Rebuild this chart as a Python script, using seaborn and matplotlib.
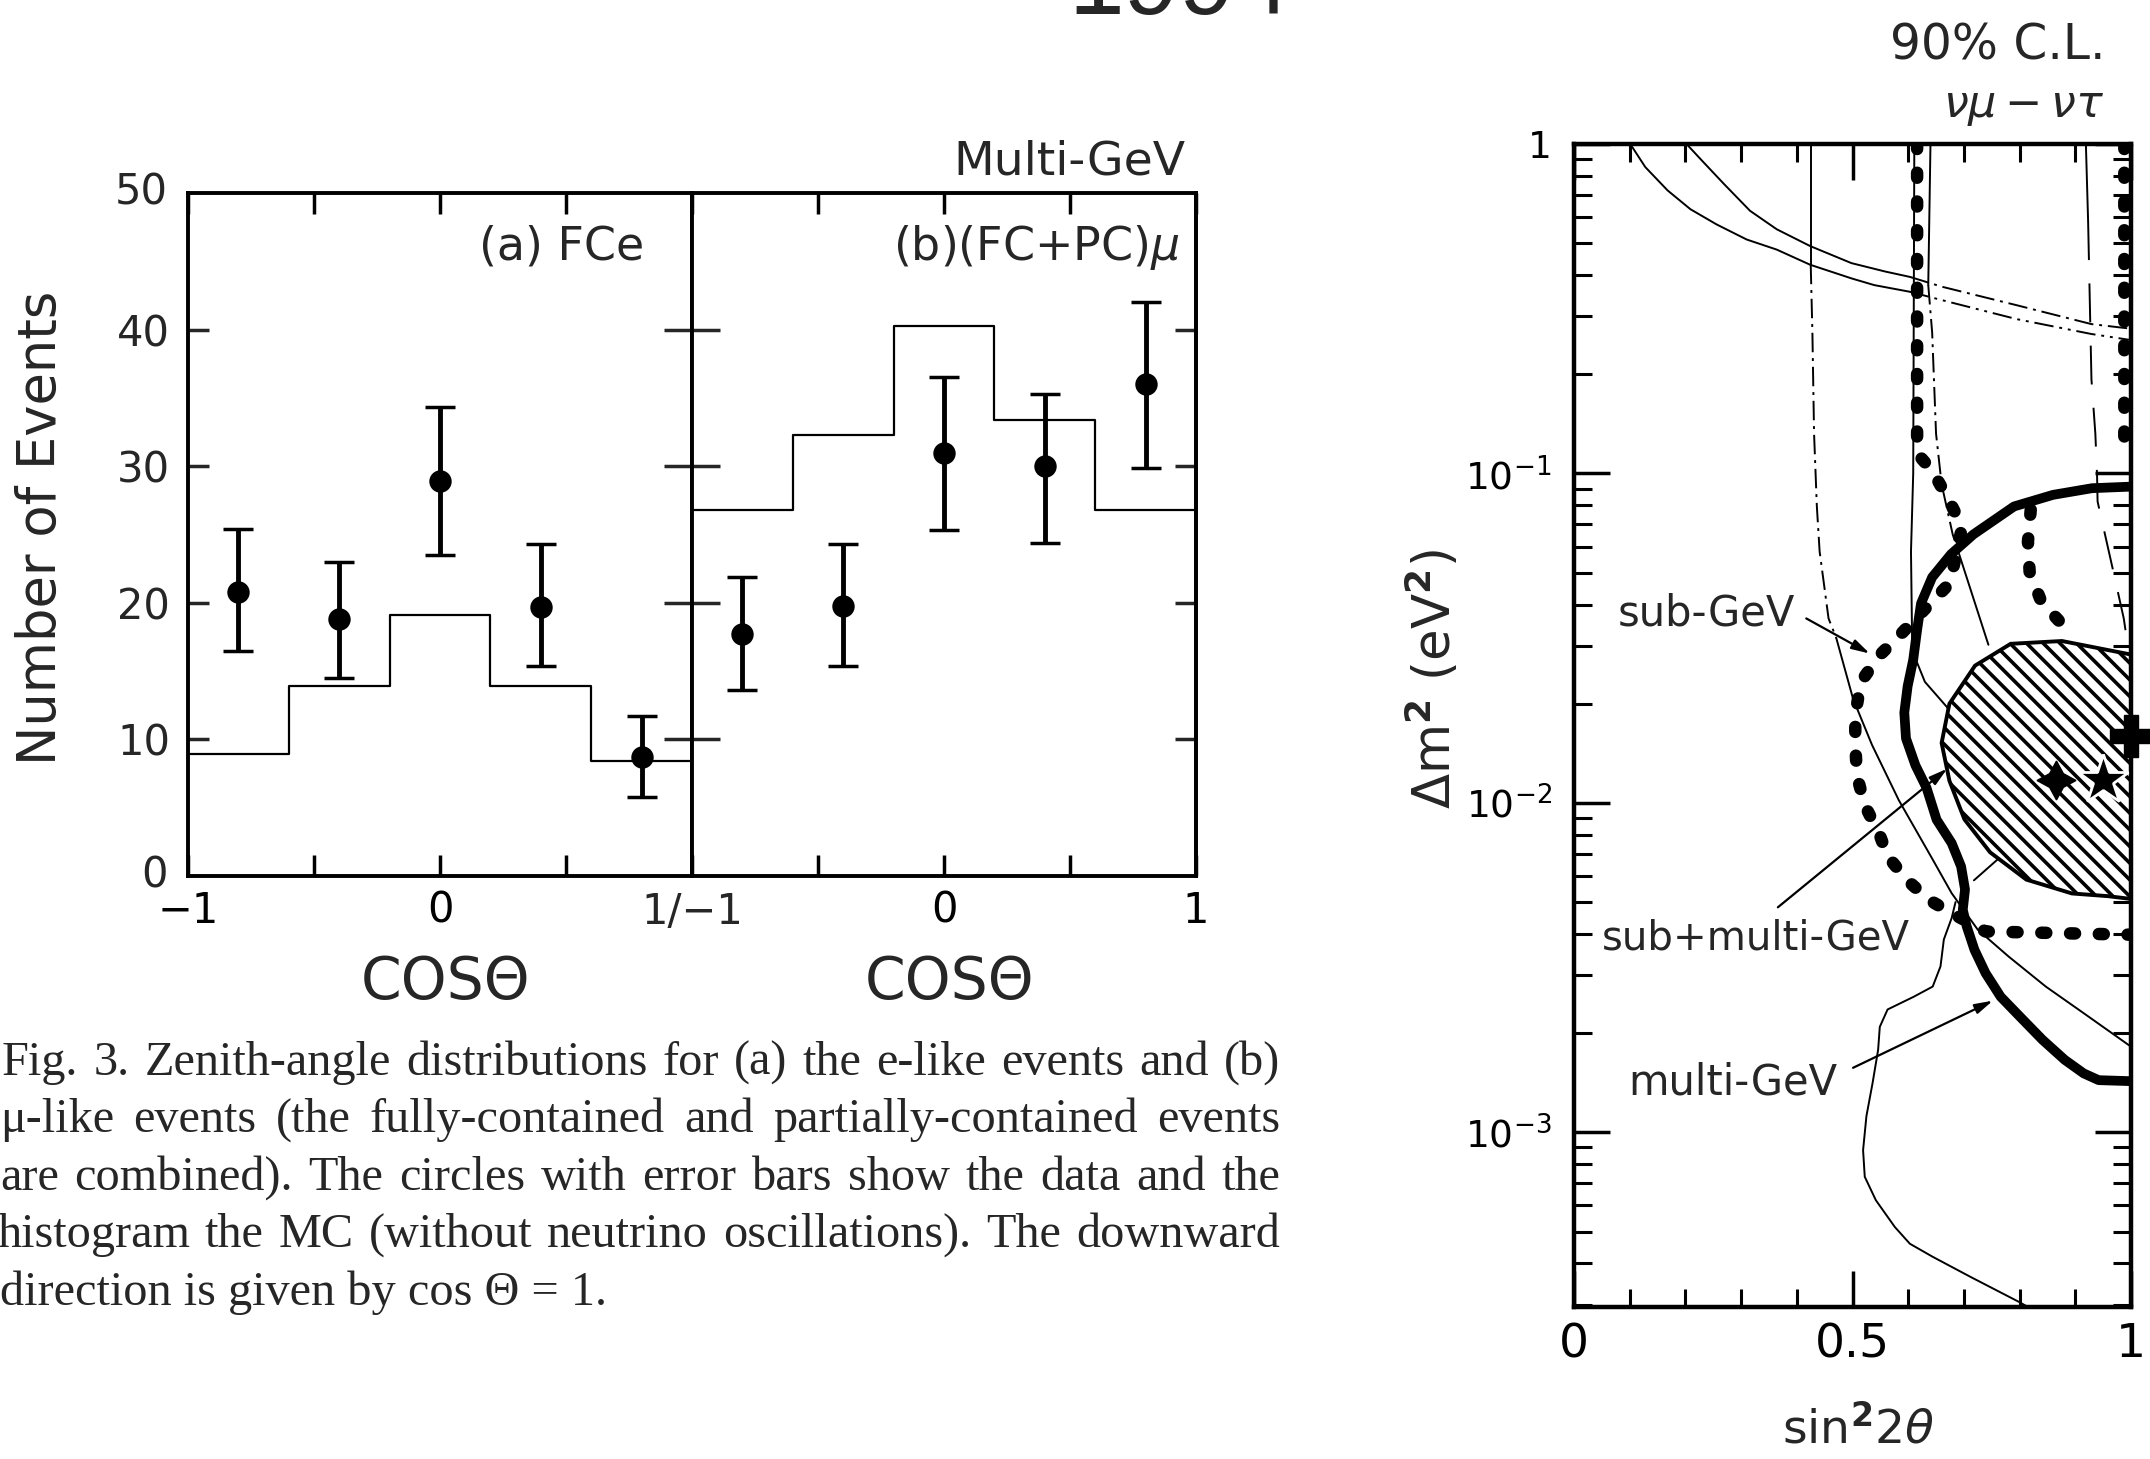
import matplotlib
matplotlib.use("Agg")
import matplotlib.pyplot as plt
import seaborn as sns
import numpy as np
import pandas as pd
from matplotlib.ticker import FixedLocator, FixedFormatter, NullFormatter

# ---------------- data: zenith-angle panels ----------------
cos_edges = [-1.0, -0.6, -0.2, 0.2, 0.6, 1.0]
cos_centers = [-0.8, -0.4, 0.0, 0.4, 0.8]
fce_mc = [8.9, 13.9, 19.1, 13.9, 8.4]
fce_data = [20.8, 18.8, 28.9, 19.7, 8.7]
fce_hi = [25.4, 23.0, 34.3, 24.3, 11.7]
fce_lo = [16.5, 14.5, 23.5, 15.4, 5.8]
mu_mc = [26.8, 32.3, 40.3, 33.4, 26.8]
mu_data = [17.7, 19.8, 31.0, 30.0, 36.0]
mu_hi = [21.9, 24.3, 36.5, 35.3, 42.0]
mu_lo = [13.6, 15.4, 25.3, 24.4, 29.9]
count_ticks = [0, 10, 20, 30, 40, 50]
count_labels = ["0", "10", "20", "30", "40", "50"]
cos_ticks = [-1, -0.5, 0, 0.5, 1]
cos_labels_a = ["\u22121", "", "0", "", ""]
cos_labels_b = ["", "", "0", "", "1"]

# ---------------- data: oscillation plane (sin^2 2theta, dm^2) ----------------
t1_x = [0.101, 0.128, 0.168, 0.209, 0.256, 0.310, 0.364, 0.424, 0.498, 0.539, 0.603]
t1_y = [1.0, 0.851, 0.723, 0.634, 0.570, 0.513, 0.478, 0.430, 0.391, 0.373, 0.356]
t1d_x = [0.603, 0.660, 0.795, 0.929, 1.0]
t1d_y = [0.356, 0.336, 0.294, 0.265, 0.254]
t2_x = [0.202, 0.229, 0.269, 0.316, 0.364, 0.424, 0.498, 0.559, 0.603]
t2_y = [1.0, 0.893, 0.757, 0.627, 0.551, 0.490, 0.435, 0.410, 0.395]
t2d_x = [0.603, 0.660, 0.795, 0.929, 1.0]
t2d_y = [0.395, 0.369, 0.324, 0.284, 0.275]

v1s_x = [0.425, 0.425]
v1s_y = [1.0, 0.430]
v1d_x = [0.425, 0.428, 0.431, 0.436, 0.441, 0.457, 0.471]
v1d_y = [0.430, 0.268, 0.132, 0.0794, 0.0579, 0.0363, 0.0316]
v1l_x = [0.471, 0.501, 0.535, 0.583, 0.644, 0.678, 0.725, 0.780, 0.847, 0.915, 1.0]
v1l_y = [0.0316, 0.0207, 0.0150, 0.0102, 0.00673, 0.00532, 0.00412, 0.00342, 0.00277, 0.00230, 0.00182]

v2_x = [0.611, 0.609, 0.605, 0.607, 0.615, 0.630, 0.670, 0.676]
v2_y = [1.0, 0.100, 0.0579, 0.0316, 0.0269, 0.0233, 0.0195, 0.0186]

v3s_x = [0.640, 0.636]
v3s_y = [1.0, 0.373]
v3d_x = [0.636, 0.643, 0.650, 0.660, 0.680, 0.690]
v3d_y = [0.373, 0.268, 0.132, 0.0927, 0.0652, 0.0579]
v3l_x = [0.690, 0.744]
v3l_y = [0.0579, 0.0302]

v4s_x = [0.919, 0.923]
v4s_y = [1.0, 0.583]
v4d_x = [0.923, 0.929, 0.936, 0.939, 0.940, 0.967, 0.987, 0.994]
v4d_y = [0.583, 0.193, 0.132, 0.0995, 0.0822, 0.0515, 0.0363, 0.0302]

multi_x = [1.0, 0.93, 0.86, 0.79, 0.717, 0.677, 0.643, 0.623, 0.616, 0.609, 0.599, 0.593,
           0.596, 0.613, 0.633, 0.651, 0.678, 0.695, 0.702, 0.698, 0.705, 0.719, 0.739,
           0.766, 0.80, 0.841, 0.881, 0.915, 0.942, 1.0]
multi_y = [0.0912, 0.0902, 0.0861, 0.0794, 0.0653, 0.0569, 0.0484, 0.0403, 0.0335, 0.0272,
           0.0226, 0.0188, 0.0157, 0.0130, 0.0111, 0.00889, 0.00755, 0.00641, 0.00546,
           0.00474, 0.00422, 0.00358, 0.00304, 0.00258, 0.00225, 0.00191, 0.00166,
           0.00151, 0.00144, 0.00143]

sub_x = [0.616, 0.616, 0.643, 0.672, 0.697, 0.675, 0.588, 0.549, 0.515, 0.505, 0.505, 0.508,
         0.522, 0.549, 0.563, 0.597, 0.637, 0.678, 0.739, 1.0]
sub_y = [1.0, 0.115, 0.102, 0.0836, 0.0690, 0.0465, 0.0327, 0.0281, 0.0233, 0.0185, 0.0150,
         0.0121, 0.00984, 0.00798, 0.00689, 0.00585, 0.00508, 0.00463, 0.00407, 0.00398]
sub_in_x = [0.820, 0.815, 0.818, 0.839, 0.872, 0.896]
sub_in_y = [0.0776, 0.0621, 0.0503, 0.0408, 0.0355, 0.0327]
sub_edge_x = [0.988, 0.988, 0.976]
sub_edge_y = [1.0, 0.117, 0.112]

comb_x = [1.0, 0.876, 0.784, 0.720, 0.674, 0.660, 0.674, 0.701, 0.747, 0.812, 0.894, 0.959, 1.0]
comb_y = [0.0282, 0.0310, 0.0304, 0.0261, 0.0200, 0.0152, 0.01167, 0.00891, 0.00708,
          0.00585, 0.00531, 0.00521, 0.00511]

low_x = [0.685, 0.678, 0.664, 0.658, 0.644, 0.610, 0.563, 0.549, 0.546, 0.536, 0.525, 0.519,
         0.522, 0.542, 0.576, 0.603, 0.644, 0.712, 0.80, 0.815]
low_y = [0.00500, 0.00447, 0.00385, 0.00319, 0.00277, 0.00258, 0.00236, 0.00209, 0.00178,
         0.00141, 0.00112, 0.000883, 0.000733, 0.000622, 0.000516, 0.000459, 0.000419,
         0.000364, 0.000305, 0.000295]
seg_x = [0.718, 0.765]
seg_y = [0.00582, 0.00684]

best_sub_x, best_sub_y = [0.866], [0.0117]
best_comb_x, best_comb_y = [0.950], [0.0117]
best_multi_x, best_multi_y = [1.0], [0.016]

dm_ticks = [1e-3, 1e-2, 1e-1, 1.0]
dm_labels = [r"$10^{-3}$", r"$10^{-2}$", r"$10^{-1}$", "1"]
dm_minor = [k * 10.0 ** e for e in (-4, -3, -2, -1) for k in range(2, 10)]
s2_major = [0, 0.5, 1.0]
s2_labels = ["0", "0.5", "1"]
s2_minor = [0.1, 0.2, 0.3, 0.4, 0.6, 0.7, 0.8, 0.9]

caption_lines = [
    "Fig. 3. Zenith-angle distributions for (a) the e-like events and (b)",
    "\u03bc-like events (the fully-contained and partially-contained events",
    "are combined). The circles with error bars show the data and the",
    "histogram the MC (without neutrino oscillations). The downward",
    "direction is given by cos \u0398 = 1.",
]

# ---------------- style ----------------
sns.set_theme(style="ticks")
plt.rcParams["font.family"] = ["DejaVu Sans"]
plt.rcParams["mathtext.fontset"] = "dejavusans"
plt.rcParams["hatch.linewidth"] = 2.6
plt.rcParams["axes.facecolor"] = "white"

W, H = 2150, 1459
fig = plt.figure(figsize=(W / 100, H / 100), dpi=100)
fig.patch.set_facecolor("white")


def fx(px):
    return px / W


def fy(py):
    return 1 - py / H


K = "black"
SPW = 2.8

axA = fig.add_axes([fx(188), fy(876), fx(504), (876 - 193) / H])
axB = fig.add_axes([fx(692), fy(876), fx(504), (876 - 193) / H])


def zen_panel(ax, mc, data, lo, hi, labels):
    sns.histplot(x=cos_centers, weights=mc, bins=cos_edges, element="step", fill=False,
                 color=K, linewidth=1.6, ax=ax)
    yerr = [np.array(data) - np.array(lo), np.array(hi) - np.array(data)]
    ax.errorbar(cos_centers, data, yerr=yerr, fmt="none", ecolor=K, elinewidth=3.5,
                capsize=11, capthick=2.5, zorder=3)
    sns.scatterplot(x=cos_centers, y=data, ax=ax, color=K, s=260, edgecolor=K,
                    linewidth=0, zorder=4)
    ax.set_xlim(-1, 1)
    ax.set_ylim(0, 50)
    ax.set_xlabel("")
    ax.set_ylabel("")
    ax.set_xticks(cos_ticks)
    ax.set_xticklabels(labels)
    ax.tick_params(axis="x", direction="in", top=True, bottom=True, length=15, width=2.5,
                   labelsize=30, pad=10, colors=K)
    for s in ax.spines.values():
        s.set_visible(True)
        s.set_linewidth(SPW)
        s.set_color(K)


zen_panel(axA, fce_mc, fce_data, fce_lo, fce_hi, cos_labels_a)
zen_panel(axB, mu_mc, mu_data, mu_lo, mu_hi, cos_labels_b)

axA.set_yticks(count_ticks[1:-1])
axA.set_yticklabels(count_labels[1:-1])
axA.tick_params(axis="y", direction="in", left=True, right=False, length=15, width=2.5,
                labelsize=30, pad=13)
for v, lab in zip([0, 50], ["0", "50"]):
    axA.text(-0.04, v, lab, transform=axA.get_yaxis_transform(), ha="right", va="center",
             fontsize=30)

axB.set_yticks(count_ticks[1:-1])
axB.set_yticklabels([])
axB.tick_params(axis="y", direction="inout", left=True, right=False, length=40, width=2.5,
                labelleft=False)
secB = axB.secondary_yaxis("right")
secB.set_yticks(count_ticks[1:-1])
secB.set_yticklabels([])
secB.tick_params(axis="y", direction="in", length=15, width=2.5)
secB.spines["right"].set_linewidth(SPW)

fig.text(fx(692), fy(912), "1/\u22121", ha="center", va="center", fontsize=30)
fig.text(fx(644), fy(247), "(a) FCe", ha="right", va="center", fontsize=33)
fig.text(fx(1179), fy(247), r"(b)(FC+PC)$\mu$", ha="right", va="center", fontsize=33)
fig.text(fx(1186), fy(162), "Multi-GeV", ha="right", va="center", fontsize=34)
fig.text(fx(41), fy(528), "Number of Events", rotation=90, ha="center", va="center",
         fontsize=38)
fig.text(fx(446), fy(983), "COS\u0398", ha="center", va="center", fontsize=42)
fig.text(fx(950), fy(983), "COS\u0398", ha="center", va="center", fontsize=42)

# ---------------- oscillation panel ----------------
axR = fig.add_axes([fx(1574), fy(1307), fx(557), (1307 - 144) / H])
axR.set_yscale("log")
axR.set_xlim(0, 1)
axR.set_ylim(2.95e-4, 1.0)

THIN = 1.4
DASHDOT = (0, (10, 3, 1.5, 3))
LONGDASH = (0, (20, 12))
DOTS = (0, (0.4, 1.9))

axR.plot(t1_x, t1_y, color=K, lw=THIN)
axR.plot(t1d_x, t1d_y, color=K, lw=THIN, ls=(0, (10, 3, 1.5, 3, 1.5, 3)))
axR.plot(t2_x, t2_y, color=K, lw=THIN)
axR.plot(t2d_x, t2d_y, color=K, lw=THIN, ls=DASHDOT)
axR.plot(v1s_x, v1s_y, color=K, lw=THIN)
axR.plot(v1d_x, v1d_y, color=K, lw=THIN, ls=DASHDOT)
axR.plot(v1l_x, v1l_y, color=K, lw=THIN)
axR.plot(v2_x, v2_y, color=K, lw=THIN)
axR.plot(v3s_x, v3s_y, color=K, lw=THIN)
axR.plot(v3d_x, v3d_y, color=K, lw=THIN, ls=DASHDOT)
axR.plot(v3l_x, v3l_y, color=K, lw=THIN)
axR.plot(v4s_x, v4s_y, color=K, lw=THIN)
axR.plot(v4d_x, v4d_y, color=K, lw=THIN, ls=LONGDASH)
axR.plot(low_x, low_y, color=K, lw=THIN)
axR.plot(seg_x, seg_y, color=K, lw=THIN)

axR.fill(comb_x, comb_y, facecolor="white", edgecolor=K, hatch="\\\\", lw=2.8, zorder=2)
axR.plot(multi_x, multi_y, color=K, lw=7, solid_capstyle="round", solid_joinstyle="round",
         zorder=4)
for xs, ys in [(sub_x, sub_y), (sub_in_x, sub_in_y), (sub_edge_x, sub_edge_y)]:
    axR.plot(xs, ys, color=K, lw=9, ls=DOTS, dash_capstyle="round", zorder=4)

axR.plot(best_sub_x, best_sub_y, marker=(4, 1, 0), ms=28, color=K, ls="none", zorder=6)
axR.plot(best_comb_x, best_comb_y, marker="*", ms=38, color=K, mec="white", mew=2,
         ls="none", zorder=6)
axR.plot(best_multi_x, best_multi_y, marker="P", ms=30, color=K, ls="none", zorder=6,
         clip_on=False)

arrow = dict(arrowstyle="-|>,head_length=0.9,head_width=0.25", color=K, lw=1.6,
             shrinkA=0, shrinkB=0)
axR.annotate("", xy=(0.531, 0.0284), xytext=(0.417, 0.0363), arrowprops=arrow, zorder=7)
axR.annotate("", xy=(0.670, 0.0127), xytext=(0.366, 0.00482), arrowprops=arrow, zorder=7)
axR.annotate("", xy=(0.752, 0.00251), xytext=(0.501, 0.00157), arrowprops=arrow, zorder=7)
axR.text(0.237, 0.0377, "sub-GeV", ha="center", va="center", fontsize=30, zorder=8)
axR.text(0.327, 0.00388, "sub+multi-GeV", ha="center", va="center", fontsize=29, zorder=8)
axR.text(0.285, 0.00142, "multi-GeV", ha="center", va="center", fontsize=30, zorder=8)

axR.yaxis.set_major_locator(FixedLocator(dm_ticks))
axR.yaxis.set_major_formatter(FixedFormatter(dm_labels))
axR.yaxis.set_minor_locator(FixedLocator(dm_minor))
axR.yaxis.set_minor_formatter(NullFormatter())
axR.xaxis.set_major_locator(FixedLocator(s2_major))
axR.xaxis.set_major_formatter(FixedFormatter(s2_labels))
axR.xaxis.set_minor_locator(FixedLocator(s2_minor))
axR.tick_params(which="both", direction="in", left=True, right=True, top=True, bottom=True,
                colors=K)
axR.tick_params(which="major", length=26, width=2.5)
axR.tick_params(which="minor", length=13, width=2.2)
axR.tick_params(axis="y", pad=16, labelsize=27)
axR.tick_params(axis="x", pad=11, labelsize=34)
for s in axR.spines.values():
    s.set_visible(True)
    s.set_linewidth(3.2)
    s.set_color(K)

fig.text(fx(2105), fy(45), "90% C.L.", ha="right", va="center", fontsize=35)
fig.text(fx(2105), fy(106), r"$\nu\mu-\nu\tau$", ha="right", va="center", fontsize=32)
fig.text(fx(1433), fy(679), r"$\Delta$m$^{\mathbf{2}}$ (eV$^{\mathbf{2}}$)", rotation=90,
         ha="center", va="center", fontsize=37)
fig.text(fx(1858), fy(1430), r"sin$^{\mathbf{2}}$2$\theta$", ha="center", va="center",
         fontsize=34)

# partially visible year at the top edge (cut off in the scan)
fig.text(fx(1068), fy(14), "1994", ha="left", va="baseline", fontsize=72,
         family=["Liberation Sans", "DejaVu Sans"])

# ---------------- caption (justified) ----------------
CAP_FONT = ["Liberation Serif", "DejaVu Serif"]
fig.canvas.draw()
renderer = fig.canvas.get_renderer()


def measure(s, fs):
    t = fig.text(0, 0, s, fontsize=fs, family=CAP_FONT)
    w = t.get_window_extent(renderer).width
    t.remove()
    return w


target = 1280
base_fs = 30
scale = min(0.985 * target / measure(ln, base_fs) for ln in caption_lines[:4])
cap_fs = base_fs * scale
baselines = [1075, 1132, 1190, 1247, 1305]
starts = [2, 0, 0, -3, 0]
for i, ln in enumerate(caption_lines):
    if i < 4:
        words = ln.split(" ")
        widths = [measure(w, cap_fs) for w in words]
        gap = (target - starts[i] - sum(widths)) / (len(words) - 1)
        x = starts[i]
        for w, wd in zip(words, widths):
            fig.text(fx(x), fy(baselines[i]), w, fontsize=cap_fs, family=CAP_FONT,
                     ha="left", va="baseline")
            x += wd + gap
    else:
        fig.text(fx(starts[i]), fy(baselines[i]), ln, fontsize=cap_fs, family=CAP_FONT,
                 ha="left", va="baseline")

fig.savefig("out.png", dpi=100, facecolor="white")
